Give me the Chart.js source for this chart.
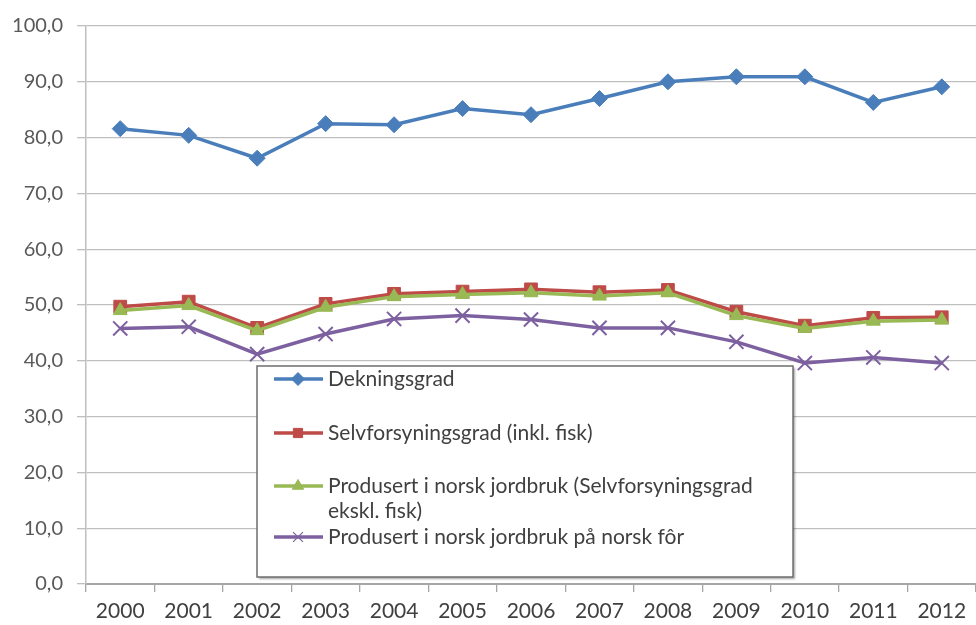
<!DOCTYPE html>
<html lang="no">
<head>
  <meta charset="UTF-8">
  <title>Dekningsgrad og selvforsyningsgrad</title>
  <script src="https://cdn.jsdelivr.net/npm/chart.js"></script>
  <style>
    html, body { margin: 0; padding: 0; background: #fff; }
  </style>
</head>
<body>
  <canvas id="gradChart" width="976" height="625"></canvas>

  <script>
    // data
    const years = ['2000', '2001', '2002', '2003', '2004', '2005', '2006', '2007', '2008', '2009', '2010', '2011', '2012'];
    const dekningsgrad = [81.6, 80.4, 76.3, 82.5, 82.3, 85.2, 84.1, 87.0, 90.0, 90.9, 90.9, 86.3, 89.1];
    const selvforsyning = [49.7, 50.6, 45.9, 50.2, 52.0, 52.4, 52.8, 52.3, 52.7, 48.8, 46.3, 47.7, 47.8];
    const jordbruk = [49.0, 49.9, 45.4, 49.6, 51.5, 51.9, 52.2, 51.6, 52.2, 48.1, 45.8, 47.1, 47.3];
    const norskFor = [45.8, 46.1, 41.2, 44.8, 47.5, 48.1, 47.4, 45.9, 45.9, 43.4, 39.6, 40.6, 39.6];
    const seriesNames = [
      'Dekningsgrad',
      'Selvforsyningsgrad (inkl. fisk)',
      'Produsert i norsk jordbruk (Selvforsyningsgrad ekskl. fisk)',
      'Produsert i norsk jordbruk på norsk fôr'
    ];

    const FONT = 'Lato, "Open Sans", sans-serif';

    // legend drawn as a framed box inside the plot, like the original
    const boxLegend = {
      id: 'boxLegend',
      afterDatasetsDraw(chart) {
        const ctx = chart.ctx;
        const x0 = 257, y0 = 366, w = 536, h = 211;
        ctx.save();
        ctx.shadowColor = 'rgba(0,0,0,0.35)';
        ctx.shadowOffsetX = 2;
        ctx.shadowOffsetY = 2;
        ctx.shadowBlur = 2;
        ctx.fillStyle = '#fff';
        ctx.fillRect(x0, y0, w, h);
        ctx.shadowColor = 'transparent';
        ctx.strokeStyle = '#6e6e6e';
        ctx.lineWidth = 1.5;
        ctx.strokeRect(x0, y0, w, h);

        const rows = [379, 433, 486, 537];
        chart.data.datasets.forEach((ds, i) => {
          const y = rows[i];
          const isCross = ds.pointStyle === 'crossRot';
          ctx.strokeStyle = ds.borderColor;
          ctx.lineWidth = 3.5;
          ctx.beginPath();
          ctx.moveTo(274, y);
          ctx.lineTo(323, y);
          ctx.stroke();

          ctx.fillStyle = ds.pointBackgroundColor;
          ctx.strokeStyle = ds.pointBorderColor;
          ctx.lineWidth = isCross ? 1.2 : 1;
          Chart.helpers.drawPoint(ctx, {
            pointStyle: ds.pointStyle,
            radius: isCross ? 7 : 6.5,
            borderWidth: ctx.lineWidth
          }, 298, y);

          // text, wrapped to the box
          ctx.font = '21px ' + FONT;
          ctx.textBaseline = 'middle';
          ctx.fillStyle = '#404040';
          const maxW = x0 + w - 328 - 4;
          const words = ds.label.split(' ');
          let line = '', lines = [];
          words.forEach(word => {
            const test = line ? line + ' ' + word : word;
            if (ctx.measureText(test).width > maxW && line) {
              lines.push(line);
              line = word;
            } else {
              line = test;
            }
          });
          lines.push(line);
          lines.forEach((t, k) => ctx.fillText(t, 328, y + k * 25));
        });
        ctx.restore();
      }
    };

    new Chart(document.getElementById('gradChart'), {
      type: 'line',
      data: {
        labels: years,
        datasets: [{
          label: seriesNames[0],
          data: dekningsgrad,
          borderColor: '#4a7ebb',
          pointBackgroundColor: '#4a7ebb',
          pointBorderColor: '#4a7ebb',
          pointStyle: 'rectRot',
          pointRadius: 8,
          order: 0
        }, {
          label: seriesNames[1],
          data: selvforsyning,
          borderColor: '#be4b48',
          pointBackgroundColor: '#be4b48',
          pointBorderColor: '#be4b48',
          pointStyle: 'rect',
          pointRadius: 9,
          order: 2
        }, {
          label: seriesNames[2],
          data: jordbruk,
          borderColor: '#98b954',
          pointBackgroundColor: '#98b954',
          pointBorderColor: '#98b954',
          pointStyle: 'triangle',
          pointRadius: 8,
          order: 1
        }, {
          label: seriesNames[3],
          data: norskFor,
          borderColor: '#7d60a0',
          pointBackgroundColor: '#7d60a0',
          pointBorderColor: '#7d60a0',
          pointStyle: 'crossRot',
          pointRadius: 10,
          pointBorderWidth: 2,
          order: 3
        }]
      },
      options: {
        responsive: false,
        animation: false,
        layout: {
          autoPadding: false,
          padding: { top: 24, right: 0, left: 0, bottom: 0 }
        },
        elements: {
          line: { borderWidth: 3.5, tension: 0 },
          point: { borderWidth: 1, hoverRadius: 8 }
        },
        plugins: {
          legend: { display: false },
          tooltip: { enabled: false }
        },
        scales: {
          x: {
            offset: true,
            afterFit: axis => {
              axis.height = 41;
              axis.paddingLeft = 0;
              axis.paddingRight = 0;
            },
            grid: {
              offset: true,
              drawOnChartArea: false,
              tickLength: 8,
              color: '#a6a6a6',
              lineWidth: 1.3
            },
            border: { color: '#a6a6a6', width: 2 },
            ticks: {
              padding: 7,
              color: '#404040',
              font: { family: FONT, size: 21 },
              maxRotation: 0,
              autoSkip: false
            }
          },
          y: {
            min: 0,
            max: 100,
            afterFit: axis => { axis.width = 86; },
            grid: {
              color: '#bfbfbf',
              lineWidth: 1.3,
              tickLength: 9
            },
            border: { color: '#bfbfbf', width: 1.5 },
            ticks: {
              stepSize: 10,
              padding: 14,
              color: '#595959',
              font: { family: FONT, size: 20 },
              callback: v => v.toFixed(1).replace('.', ',')
            }
          }
        }
      },
      plugins: [boxLegend]
    });
  </script>
</body>
</html>
